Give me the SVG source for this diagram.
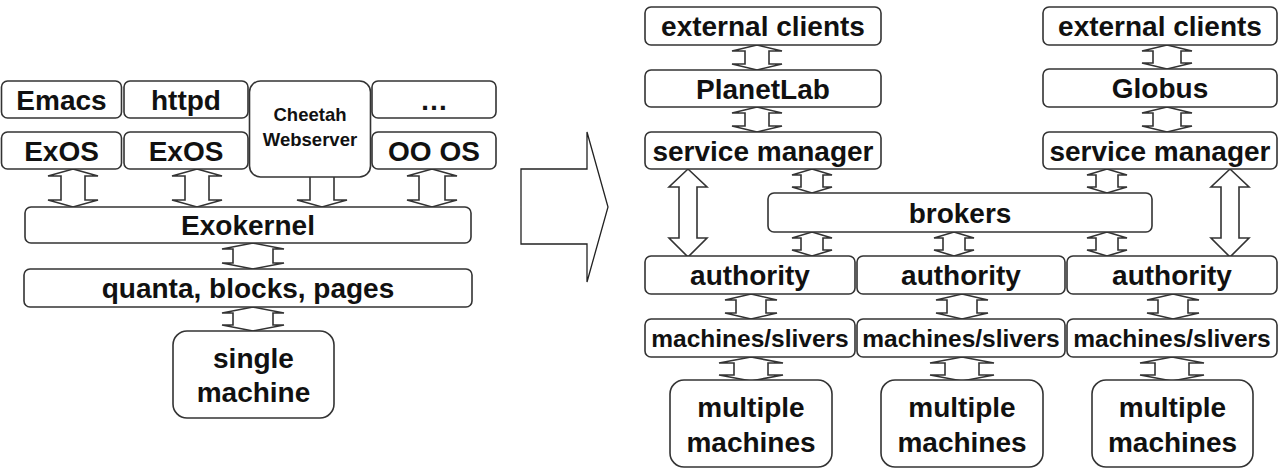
<svg xmlns="http://www.w3.org/2000/svg" width="1288" height="473" viewBox="0 0 1288 473">
<style>
.b{fill:#fff;stroke:#333;stroke-width:1.6}
.t{font-family:"Liberation Sans",Arial,sans-serif;font-weight:bold;font-size:28px;fill:#111;text-anchor:middle}
.s{font-size:24.5px}
.c{font-size:18.5px}
.a{fill:#fff;stroke:#333;stroke-width:1.6;stroke-linejoin:miter}
</style>
<rect width="1288" height="473" fill="#fff"/>
<g id="connectors">
<!-- left small arrows -->
<path class="a" d="M73,169 L98,176 L85,176 L85,200 L98,200 L73,207 L48,200 L61,200 L61,176 L48,176 Z"/>
<path class="a" d="M197,169 L222,176 L209,176 L209,200 L222,200 L197,207 L172,200 L185,200 L185,176 L172,176 Z"/>
<path class="a" d="M322,169 L347,176 L334,176 L334,200 L347,200 L322,207 L297,200 L310,200 L310,176 L297,176 Z"/>
<path class="a" d="M432,169 L457,176 L445,176 L445,200 L457,200 L432,207 L407,200 L419,200 L419,176 L407,176 Z"/>
<path class="a" d="M253,243 L284,249 L273,249 L273,263 L284,263 L253,269 L222,263 L233,263 L233,249 L222,249 Z"/>
<path class="a" d="M253,307 L284,313 L273,313 L273,325 L284,325 L253,331 L222,325 L233,325 L233,313 L222,313 Z"/>
<!-- big arrow -->
<path fill="#fff" stroke="#222" stroke-width="1.3" d="M521,169 L587,169 L587,132 L608,207 L587,282 L587,244 L521,244 Z"/>
<!-- right small arrows -->
<path class="a" d="M757,45 L782,51 L769,51 L769,64 L782,64 L757,70 L732,64 L745,64 L745,51 L732,51 Z"/>
<path class="a" d="M757,107 L782,113 L769,113 L769,126 L782,126 L757,132 L732,126 L745,126 L745,113 L732,113 Z"/>
<path class="a" d="M1167,45 L1192,51 L1181,51 L1181,63 L1192,63 L1167,69 L1142,63 L1153,63 L1153,51 L1142,51 Z"/>
<path class="a" d="M1167,107 L1192,113 L1181,113 L1181,126 L1192,126 L1167,132 L1142,126 L1153,126 L1153,113 L1142,113 Z"/>
<path class="a" d="M812,169 L832,175 L823,175 L823,187 L832,187 L812,193 L792,187 L801,187 L801,175 L792,175 Z"/>
<path class="a" d="M1107,169 L1127,175 L1118,175 L1118,187 L1127,187 L1107,193 L1087,187 L1096,187 L1096,175 L1087,175 Z"/>
<path class="a" d="M812,232 L832,238 L823,238 L823,250 L832,250 L812,256 L792,250 L801,250 L801,238 L792,238 Z"/>
<path class="a" d="M954,232 L974,238 L965,238 L965,250 L974,250 L954,256 L934,250 L943,250 L943,238 L934,238 Z"/>
<path class="a" d="M1107,232 L1127,238 L1118,238 L1118,250 L1127,250 L1107,256 L1087,250 L1096,250 L1096,238 L1087,238 Z"/>
<path class="a" d="M751,294 L777,300 L766,300 L766,313 L777,313 L751,319 L725,313 L736,313 L736,300 L725,300 Z"/>
<path class="a" d="M962,294 L988,300 L977,300 L977,313 L988,313 L962,319 L936,313 L947,313 L947,300 L936,300 Z"/>
<path class="a" d="M1173,294 L1199,300 L1188,300 L1188,313 L1199,313 L1173,319 L1147,313 L1158,313 L1158,300 L1147,300 Z"/>
<path class="a" d="M751,357 L783,363 L768,363 L768,375 L783,375 L751,381 L719,375 L734,375 L734,363 L719,363 Z"/>
<path class="a" d="M962,357 L994,363 L979,363 L979,375 L994,375 L962,381 L930,375 L945,375 L945,363 L930,363 Z"/>
<path class="a" d="M1172,357 L1204,363 L1189,363 L1189,375 L1204,375 L1172,381 L1140,375 L1155,375 L1155,363 L1140,363 Z"/>
<!-- big double arrows -->
<path class="a" d="M688,169 L707,187 L697,187 L697,238 L707,238 L688,257 L669,238 L679,238 L679,187 L669,187 Z"/>
<path class="a" d="M1230,169 L1249,187 L1239,187 L1239,238 L1249,238 L1230,257 L1211,238 L1221,238 L1221,187 L1211,187 Z"/>
</g>
<g id="emacs"><rect class="b" x="1.5" y="81" width="120" height="37" rx="6"/><text class="t" x="61.5" y="109.5">Emacs</text></g>
<g id="httpd"><rect class="b" x="124" y="81" width="124" height="37" rx="6"/><text class="t" x="186" y="109.5">httpd</text></g>
<g id="cheetah"><rect class="b" x="249.5" y="81" width="121" height="96" rx="11"/><text class="t c" x="310" y="121">Cheetah</text><text class="t c" x="310" y="146">Webserver</text></g>
<g id="etc"><rect class="b" x="372" y="81" width="124" height="37" rx="6"/><text class="t" x="434" y="109.5">…</text></g>
<g id="exos1"><rect class="b" x="1.5" y="132" width="120" height="37" rx="6"/><text class="t" x="61.5" y="160.5">ExOS</text></g>
<g id="exos2"><rect class="b" x="124" y="132" width="124" height="37" rx="6"/><text class="t" x="186" y="160.5">ExOS</text></g>
<g id="oos"><rect class="b" x="372" y="132" width="124" height="37" rx="6"/><text class="t" x="434" y="160.5">OO OS</text></g>
<g id="exokernel"><rect class="b" x="25" y="207" width="446" height="36" rx="6"/><text class="t" x="248" y="235">Exokernel</text></g>
<g id="quanta"><rect class="b" x="24" y="269" width="448" height="38" rx="6"/><text class="t" x="248" y="298">quanta, blocks, pages</text></g>
<g id="single"><rect class="b" x="173" y="331" width="161" height="87" rx="14"/><text class="t" x="253.5" y="368">single</text><text class="t" x="253.5" y="402">machine</text></g>

<g id="ext1"><rect class="b" x="645" y="7" width="236" height="38" rx="6"/><text class="t" x="763" y="36">external clients</text></g>
<g id="planetlab"><rect class="b" x="645" y="70" width="236" height="37" rx="6"/><text class="t" x="763" y="98.5">PlanetLab</text></g>
<g id="sm1"><rect class="b" x="645" y="132" width="236" height="37" rx="6"/><text class="t" x="763" y="160.5">service manager</text></g>
<g id="ext2"><rect class="b" x="1043" y="7" width="234" height="38" rx="6"/><text class="t" x="1160" y="36">external clients</text></g>
<g id="globus"><rect class="b" x="1043" y="69" width="234" height="38" rx="6"/><text class="t" x="1160" y="98">Globus</text></g>
<g id="sm2"><rect class="b" x="1043" y="132" width="234" height="37" rx="6"/><text class="t" x="1160" y="160.5">service manager</text></g>
<g id="brokers"><rect class="b" x="768" y="193" width="384" height="39" rx="6"/><text class="t" x="960" y="222.5">brokers</text></g>
<g id="auth1"><rect class="b" x="645" y="256" width="210" height="38" rx="6"/><text class="t" x="750" y="285">authority</text></g>
<g id="auth2"><rect class="b" x="857" y="256" width="208" height="38" rx="6"/><text class="t" x="961" y="285">authority</text></g>
<g id="auth3"><rect class="b" x="1067" y="256" width="210" height="38" rx="6"/><text class="t" x="1172" y="285">authority</text></g>
<g id="ms1"><rect class="b" x="645" y="319" width="210" height="38" rx="6"/><text class="t s" x="750" y="346.5">machines/slivers</text></g>
<g id="ms2"><rect class="b" x="857" y="319" width="208" height="38" rx="6"/><text class="t s" x="961" y="346.5">machines/slivers</text></g>
<g id="ms3"><rect class="b" x="1067" y="319" width="210" height="38" rx="6"/><text class="t s" x="1172" y="346.5">machines/slivers</text></g>
<g id="mm1"><rect class="b" x="670" y="380" width="162" height="87" rx="14"/><text class="t" x="751" y="417">multiple</text><text class="t" x="751" y="451.5">machines</text></g>
<g id="mm2"><rect class="b" x="881" y="380" width="162" height="87" rx="14"/><text class="t" x="962" y="417">multiple</text><text class="t" x="962" y="451.5">machines</text></g>
<g id="mm3"><rect class="b" x="1092" y="380" width="161" height="87" rx="14"/><text class="t" x="1172.5" y="417">multiple</text><text class="t" x="1172.5" y="451.5">machines</text></g>
</svg>
